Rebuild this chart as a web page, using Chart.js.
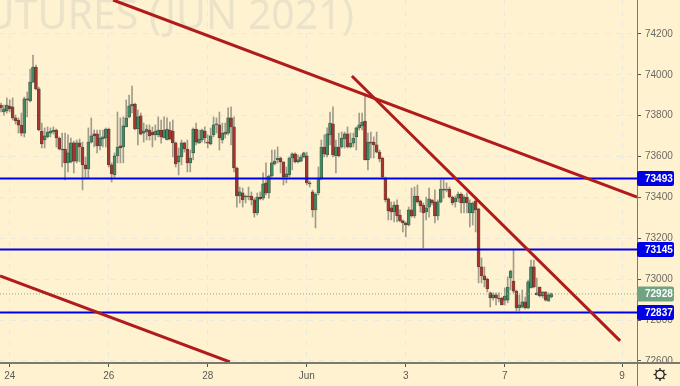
<!DOCTYPE html>
<html><head><meta charset="utf-8">
<style>html,body{margin:0;padding:0;background:#fff2d0}canvas{display:block}</style>
<script src="https://cdn.jsdelivr.net/npm/chart.js@4"></script>
</head><body><canvas id="c" width="680" height="386"></canvas>
<script>
const opens=[73852,73818,73823,73847,73843,73789,73779,73754,73715,73882,
73872,73965,74038,73931,73725,73681,73696,73715,73720,73730,
73691,73637,73637,73569,73574,73667,73578,73667,73647,73559,
73539,73671,73711,73711,73652,73686,73691,73735,73559,73510,
73603,73652,73647,73745,73794,73848,73857,73735,73799,73715,
73720,73730,73720,73706,73706,73730,73691,73681,73730,73725,
73667,73574,73598,73667,73637,73569,73618,73735,73666,73681,
73725,73671,73662,73706,73755,73755,73681,73710,73715,73789,
73745,73544,73407,73422,73402,73402,73407,73388,73324,73402,
73397,73471,73422,73505,73564,73583,73593,73574,73500,73510,
73593,73613,73574,73578,73598,73603,73471,73427,73339,73422,
73495,73647,73608,73706,73760,73603,73647,73647,73686,73711,
73647,73666,73696,73740,73750,73774,73584,73671,73671,73657,
73622,73593,73495,73393,73349,73329,73363,73314,73285,73275,
73265,73339,73309,73407,73383,73363,73329,73353,73388,73378,
73309,73378,73441,73436,73441,73402,73378,73397,73417,73373,
73402,73324,73324,73383,73344,73060,73016,73001,72933,72908,
72923,72908,72908,72898,72898,73006,72991,72942,72859,72864,
72889,72859,72957,73060,72923,72962,72918,72938,72893,72913];
const highs=[73862,73852,73887,73877,73887,73803,73789,73813,73891,73916,
74028,74097,74048,73940,73764,73740,73745,73740,73745,73735,
73696,73715,73715,73706,73691,73676,73681,73686,73671,73598,
73740,73789,73730,73730,73730,73730,73740,73740,73569,73618,
73818,73789,73794,73877,73901,73945,73862,73828,73813,73764,
73755,73755,73745,73755,73794,73779,73794,73789,73769,73779,
73671,73642,73681,73671,73681,73632,73740,73764,73730,73735,
73745,73706,73740,73794,73789,73818,73764,73764,73838,73843,
73794,73549,73451,73446,73412,73451,73427,73397,73422,73427,
73520,73569,73510,73632,73632,73647,73598,73574,73549,73598,
73618,73618,73608,73608,73622,73622,73480,73436,73422,73549,
73681,73706,73740,73818,73843,73681,73715,73720,73720,73745,
73715,73715,73745,73813,73813,73901,73715,73720,73696,73720,
73632,73598,73500,73397,73378,73378,73388,73339,73290,73280,
73353,73446,73451,73461,73388,73373,73402,73446,73388,73437,
73388,73486,73486,73471,73451,73407,73407,73427,73422,73412,
73422,73388,73378,73397,73348,73104,73060,73006,72938,72933,
72933,72933,72913,72957,73011,73045,73143,72947,72923,72947,
72913,72996,73094,73094,73006,72962,72938,72938,72933,72933];
const lows=[73818,73803,73813,73818,73779,73759,73715,73701,73696,73794,
73867,73960,73926,73725,73642,73642,73691,73696,73710,73647,
73632,73549,73486,73525,73569,73520,73569,73574,73437,73495,
73495,73666,73647,73618,73632,73647,73647,73549,73476,73500,
73569,73569,73569,73745,73789,73813,73730,73657,73706,73671,
73681,73681,73647,73681,73696,73666,73691,73681,73681,73598,
73549,73510,73559,73622,73525,73525,73584,73657,73666,73671,
73666,73642,73657,73696,73715,73632,73666,73691,73706,73657,
73525,73353,73373,73353,73373,73388,73363,73304,73314,73388,
73388,73412,73397,73500,73559,73569,73520,73461,73471,73500,
73535,73569,73569,73574,73593,73461,73451,73304,73251,73412,
73486,73598,73598,73657,73598,73520,73598,73642,73642,73642,
73642,73647,73632,73730,73730,73584,73535,73593,73593,73618,
73574,73495,73378,73290,73290,73280,73280,73280,73231,73207,
73260,73304,73300,73373,73329,73153,73290,73304,73363,73275,
73290,73373,73397,73427,73397,73363,73353,73378,73324,73324,
73324,73256,73265,73231,72982,72982,72962,72938,72864,72898,
72874,72889,72874,72874,72884,72947,72933,72845,72845,72859,
72854,72854,72957,72957,72923,72913,72908,72893,72893,72908];
const closes=[73838,73833,73852,73833,73789,73774,73754,73715,73882,73877,
73965,74038,73931,73730,73662,73701,73720,73725,73730,73691,
73637,73632,73569,73618,73667,73578,73667,73647,73559,73539,
73671,73701,73701,73652,73691,73696,73735,73559,73515,73603,
73647,73642,73750,73789,73848,73857,73735,73794,73710,73725,
73735,73701,73706,73725,73730,73696,73730,73735,73686,73667,
73564,73603,73667,73637,73569,73593,73735,73671,73686,73730,
73691,73666,73701,73755,73760,73691,73715,73720,73789,73745,
73544,73407,73427,73388,73407,73407,73388,73324,73402,73393,
73466,73422,73505,73569,73578,73593,73574,73500,73515,73593,
73613,73574,73584,73598,73618,73471,73466,73339,73417,73495,
73647,73613,73711,73764,73608,73647,73603,73691,73711,73647,
73666,73691,73740,73755,73769,73584,73671,73666,73657,73622,
73588,73500,73388,73334,73329,73363,73309,73285,73275,73265,
73339,73309,73407,73378,73358,73324,73349,73393,73373,73309,
73378,73441,73436,73441,73402,73373,73397,73417,73373,73402,
73373,73373,73373,73339,73060,73016,72996,72952,72908,72923,
72908,72903,72874,72918,72962,73040,72942,72859,72874,72889,
72859,72987,73060,72962,72933,72918,72938,72898,72923,72928];
const levelValues=[73493,73145,72837];
const lastPrice=72928;
const yTicks=[72600,72800,73000,73200,73400,73600,73800,74000,74200];
const xTickBars=[3,37,71,105,139,173,213.3];
const xTickLabels=['24','26','28','Jun','3','7','9'];
const trendA=[[38.5,74366],[218.4,73402]];
const trendB=[[120.5,73994],[212.6,72698]];
const trendC=[[-0.34,73016],[78.6,72595]];
const watermark='FUTURES (JUN 2021)';

const X_MIN=-0.34,X_MAX=218.4,Y_MIN=72590,Y_MAX=74366;
const blue='#0000e6',red='#b01c1c',tagFont='bold 10px "Liberation Sans"';
const RED='#a8332a',GREEN='#3f8a62';
const idx=opens.map((_,i)=>i);
const hline=(v,color,w,dash)=>({type:'line',data:[{x:X_MIN,y:v},{x:X_MAX,y:v}],borderColor:color,borderWidth:w,borderDash:dash||[],pointRadius:0,order:1});
const tline=t=>({type:'line',data:t.map(p=>({x:p[0],y:p[1]})),borderColor:red,borderWidth:3,pointRadius:0,order:0});

const deco={id:'deco',
 beforeDatasetsDraw(ch){const c=ch.ctx;c.save();c.font='41px "Noto Sans"';c.fillStyle='#ebe3c9';c.textAlign='right';c.textBaseline='alphabetic';c.fillText(watermark,354,29);c.restore();},
 afterDraw(ch){const c=ch.ctx,y=ch.scales.y;c.save();
  c.strokeStyle='#7a7a70';c.lineWidth=1;
  c.beginPath();c.moveTo(637.5,0);c.lineTo(637.5,386);c.stroke();
  c.lineWidth=2;c.beginPath();c.moveTo(0,363);c.lineTo(680,363);c.stroke();
  const tag=(v,col)=>{const py=y.getPixelForValue(v);c.fillStyle=col;c.beginPath();c.roundRect(637,py-7.5,37,15,2);c.fill();
   c.fillStyle='#fff';c.font=tagFont;c.textAlign='left';c.textBaseline='middle';c.fillText(String(v),645,py+0.5);};
  tag(lastPrice,'#6fa384');levelValues.forEach(v=>tag(v,blue));
  const gx=660,gy=374.5;c.strokeStyle='#222';c.lineWidth=1.3;c.beginPath();c.arc(gx,gy,4.2,0,7);c.stroke();
  for(let a=0;a<8;a++){const t=a*Math.PI/4;c.beginPath();c.moveTo(gx+4.2*Math.cos(t),gy+4.2*Math.sin(t));c.lineTo(gx+6.4*Math.cos(t),gy+6.4*Math.sin(t));c.stroke();}
  c.restore();}};

new Chart(document.getElementById('c'),{
 type:'bar',
 plugins:[deco],
 data:{datasets:[
  hline(lastPrice,'#7fae90',1,[1,2]),
  {type:'bar',data:idx.map(i=>({x:i,y:[lows[i],highs[i]]})),backgroundColor:'rgba(120,120,110,0.7)',barThickness:1,grouped:false,order:4},
  {type:'bar',data:idx.map(i=>({x:i,y:[Math.min(opens[i],closes[i]),Math.max(opens[i],closes[i])]})),
   backgroundColor:idx.map(i=>closes[i]<opens[i]?RED:GREEN),borderColor:'rgba(35,35,30,0.8)',borderWidth:0.6,borderSkipped:false,barThickness:3,grouped:false,order:3},
  ...levelValues.map(v=>hline(v,blue,2)),
  tline(trendA),tline(trendB),tline(trendC)
 ]},
 options:{responsive:false,animation:false,events:[],
  layout:{padding:0},
  plugins:{legend:{display:false},tooltip:{enabled:false}},
  scales:{
   x:{type:'linear',min:X_MIN,max:X_MAX,offset:false,
    afterFit(s){s.height=23;s.paddingLeft=0;s.paddingRight=0;},
    afterBuildTicks(s){s.ticks=xTickBars.map(v=>({value:v}));},
    grid:{offset:false,color:'#ebe8dc',tickColor:'#55554f',tickLength:4,lineWidth:1},
    border:{display:false,dash:[5,6]},
    ticks:{autoSkip:false,maxRotation:0,padding:3,color:'#5a5a55',font:{family:'"Liberation Sans"',size:10},
     callback(v){const k=xTickBars.indexOf(v);return k<0?'':xTickLabels[k];}}},
   y:{type:'linear',position:'right',min:Y_MIN,max:Y_MAX,
    afterFit(s){s.width=43;s.paddingTop=0;s.paddingBottom=0;},
    afterBuildTicks(s){s.ticks=yTicks.map(v=>({value:v}));},
    grid:{color:'#ebe8dc',tickColor:'#55554f',tickLength:4,lineWidth:1},
    border:{display:false,dash:[5,6]},
    ticks:{padding:4,color:'#6a6a64',font:{family:'"Liberation Sans"',size:10},callback(v){return String(v);}}}
  }}
});
</script></body></html>
